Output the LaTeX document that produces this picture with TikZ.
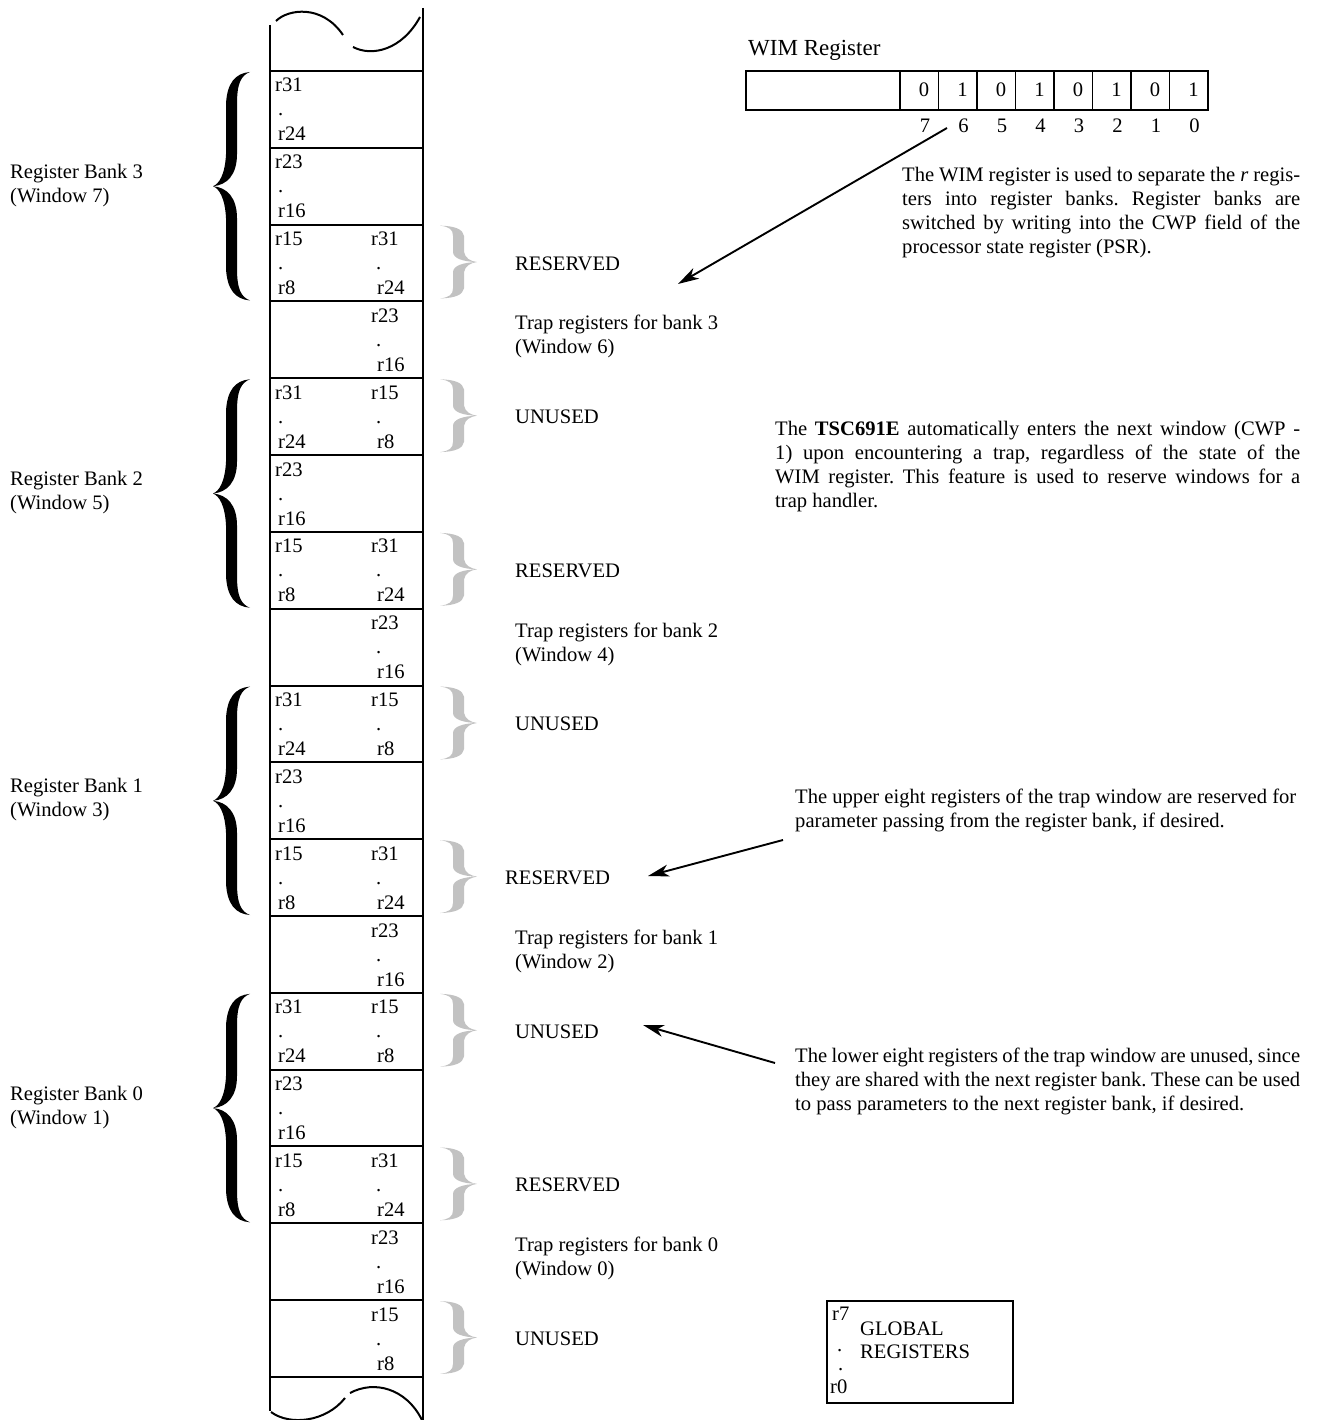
\documentclass[tikz,border=0pt]{standalone}
\usepackage{fontspec}
\setmainfont{Liberation Serif}
\usetikzlibrary{arrows.meta}
\definecolor{bracegray}{gray}{0.76}
\frenchspacing
\newcommand\fs{\fontsize{20.6}{24}\selectfont}
\newcommand\fsb{\fontsize{23}{26}\selectfont}
\tikzset{
  pics/bigbrace/.style={code={
    \fill[#1] (37,-100) .. controls (22,-99) and (14,-90) .. (13,-72) -- (13,-28)
      .. controls (12,-10) and (6,-2) .. (0,0) .. controls (6,2) and (12,10) .. (13,28)
      -- (13,72) .. controls (14,90) and (22,99) .. (37,100)
      .. controls (28,97) and (24,90) .. (24,72) -- (24,28)
      .. controls (24,10) and (14,1) .. (0,0) .. controls (14,-1) and (24,-10) .. (24,-28)
      -- (24,-72) .. controls (24,-90) and (28,-97) .. (37,-100) -- cycle;
  }},
  rt/.style={anchor=base west, inner sep=0pt, font=\fs},
  col/.style={line width=2.4pt},
  cellline/.style={line width=2pt},
  arr/.style={line width=1.9pt, -{Stealth[length=21pt,width=12pt,inset=6pt]}},
}
\newcommand\regL[3]{%
  \pgfmathsetmacro\ct{71+76.82*#1}%
  \node[rt] (L#1a) at (275,\ct+21) {#2};
  \node[rt] (L#1b) at (278,\ct+45) {.};
  \node[rt] (L#1c) at (278,\ct+70) {#3};
}
\newcommand\regR[3]{%
  \pgfmathsetmacro\ct{71+76.82*#1}%
  \node[rt] (R#1a) at (371,\ct+21) {#2};
  \node[rt] (R#1b) at (376,\ct+45) {.};
  \node[rt] (R#1c) at (377,\ct+70) {#3};
}
\begin{document}
\begin{tikzpicture}[x=1pt,y=-1pt]
\useasboundingbox (0,0) rectangle (1326,1420);

% register column
\draw[col] (270,25) -- (270,1411);
\draw[col] (423,8) -- (423,1420);
\foreach \i in {0,...,17}{
  \pgfmathsetmacro\yy{71+76.82*\i}
  \draw[cellline] (270,\yy) -- (423,\yy);
}
\draw[line width=2pt] (276,21) .. controls (288,9) and (322,4) .. (343,35);
\draw[line width=2pt] (353,47) .. controls (372,57) and (402,50) .. (420,17);
\draw[line width=2pt] (271,1412) .. controls (290,1426) and (326,1422) .. (345,1398);
\draw[line width=2pt] (350,1393) .. controls (374,1380) and (406,1388) .. (422,1420);

% cell contents
\regL{0}{r31}{r24}
\regL{1}{r23}{r16}
\regL{2}{r15}{r8}\regR{2}{r31}{r24}
\regR{3}{r23}{r16}
\regL{4}{r31}{r24}\regR{4}{r15}{r8}
\regL{5}{r23}{r16}
\regL{6}{r15}{r8}\regR{6}{r31}{r24}
\regR{7}{r23}{r16}
\regL{8}{r31}{r24}\regR{8}{r15}{r8}
\regL{9}{r23}{r16}
\regL{10}{r15}{r8}\regR{10}{r31}{r24}
\regR{11}{r23}{r16}
\regL{12}{r31}{r24}\regR{12}{r15}{r8}
\regL{13}{r23}{r16}
\regL{14}{r15}{r8}\regR{14}{r31}{r24}
\regR{15}{r23}{r16}
\regR{16}{r15}{r8}

% bank braces and labels
\foreach \b/\c/\w in {3/0/7, 2/4/5, 1/8/3, 0/12/1}{
  \pgfmathsetmacro\tp{71+76.82*\c+1}
  \pgfmathsetmacro\bt{71+76.82*(\c+3)-1}
  \pgfmathsetmacro\md{(\tp+\bt)/2}
  \pgfmathsetmacro\sc{(\bt-\tp)/200}
  \pic[shift={(213,\md)}, yscale=\sc] {bigbrace=black};
  \node[rt] (bank\b) at (10,\md-8) {\vtop{\hbox{Register Bank \b}\hbox{(Window \w)}}};
}

% gray braces and labels
\foreach \c/\t/\x in {2/RESERVED/515, 4/UNUSED/515, 6/RESERVED/515, 8/UNUSED/515,
                      10/RESERVED/505, 12/UNUSED/515, 14/RESERVED/515, 16/UNUSED/515}{
  \pgfmathsetmacro\tp{71+76.82*\c+1}
  \pgfmathsetmacro\bt{71+76.82*(\c+1)-3}
  \pgfmathsetmacro\md{(\tp+\bt)/2}
  \pgfmathsetmacro\sc{(\bt-\tp)/200}
  \pic[shift={(477,\md)}, xscale=-1, yscale=\sc] {bigbrace=bracegray};
  \node[rt] (lab\c) at (\x,\md+8) {\t};
}
\foreach \c/\b/\w in {3/3/6, 7/2/4, 11/1/2, 15/0/0}{
  \pgfmathsetmacro\md{71+76.82*(\c+0.5)}
  \node[rt] (trap\b) at (515,\md-10) {\vtop{\hbox{Trap registers for bank \b}\hbox{(Window \w)}}};
}

% WIM register
\node[anchor=base west, inner sep=0pt, font=\fsb] (wimlabel) at (748,56) {WIM Register};
\draw[line width=1.8pt] (746,71) rectangle (1208,110);
\foreach \k/\v in {0/0,1/1,2/0,3/1,4/0,5/1,6/0,7/1}{
  \draw[line width=1.8pt] ({900+38.5*\k},71) -- ({900+38.5*\k},110);
  \node[anchor=base, inner sep=0pt, font=\fs] (d\k) at ({900+38.5*\k+24},97) {\v};
  \pgfmathtruncatemacro\bn{7-\k}
  \node[anchor=base, inner sep=0pt, font=\fs] (b\bn) at ({900+38.5*\k+25},133) {\bn};
}

% explanation paragraphs
\node[rt] (wimtext) at (902,182) {\vtop{%
  \hbox to 398pt{The WIM register is used to separate the \textit{r} regis-}
  \hbox to 398pt{ters into register banks. Register banks are}
  \hbox to 398pt{switched by writing into the CWP field of the}
  \hbox{processor state register (PSR).}}};
\node[rt] (tsctext) at (775,435) {\vtop{%
  \hbox to 525pt{The \textbf{TSC691E} automatically enters the next window (CWP -}
  \hbox to 525pt{1) upon encountering a trap, regardless of the state of the}
  \hbox to 525pt{WIM register. This feature is used to reserve windows for a}
  \hbox{trap handler.}}};
\node[rt] (uppertext) at (795,803) {\vtop{%
  \hbox{The upper eight registers of the trap window are reserved for}
  \hbox{parameter passing from the register bank, if desired.}}};
\node[rt] (lowertext) at (795,1062) {\vtop{%
  \hbox to 505pt{The lower eight registers of the trap window are unused, since}
  \hbox to 505pt{they are shared with the next register bank. These can be used}
  \hbox{to pass parameters to the next register bank, if desired.}}};

% arrows
\coordinate (a1s) at (947,128);
\coordinate (a1e) at (678,284);
\coordinate (a2s) at (783,840);
\coordinate (a2e) at (648,876);
\coordinate (a3s) at (775,1063);
\coordinate (a3e) at (643,1025);
\draw[arr] (a1s) -- (a1e);
\draw[arr] (a2s) -- (a2e);
\draw[arr] (a3s) -- (a3e);

% global registers
\node[draw, line width=1.6pt, anchor=north west, inner sep=0pt,
      minimum width=186pt, minimum height=102pt] (glob) at (826,1300) {};
\node[rt] (g7) at (832,1320) {r7};
\node[rt] (gl1) at (860,1335) {GLOBAL};
\node[rt] (gl2) at (860,1358) {REGISTERS};
\node[rt] (gd1) at (837,1351) {.};
\node[rt] (gd2) at (838,1370) {.};
\node[rt] (g0) at (830,1393) {r0};
\end{tikzpicture}
\end{document}
